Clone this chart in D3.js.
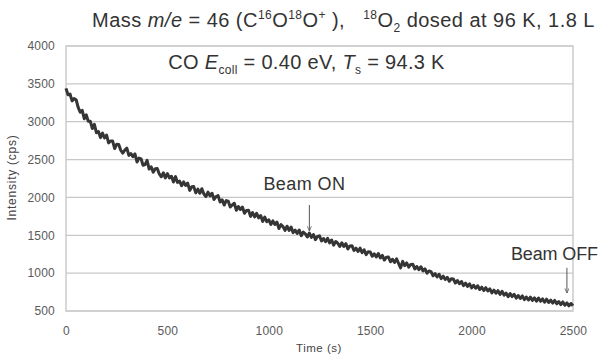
<!DOCTYPE html>
<html><head><meta charset="utf-8">
<script src="https://cdn.jsdelivr.net/npm/d3@7"></script>
<style>
html,body{margin:0;padding:0;background:#fff;}
svg{display:block;font-family:"Liberation Sans",Arial,sans-serif;}
</style></head><body>
<svg id="c" width="600" height="358"></svg>
<script>
// ---- data ----
const timeS = d3.range(0, 2501, 10); // sampling times, s (10 s step)
const intensity = [3440,3355,3365,3275,3305,3290,3190,3125,3150,3040,3090,3005,3005,2910,2965,2855,2870,2790,2850,2785,2825,2720,2745,2745,2645,2703,2700,2623,2585,2625,2650,2555,2580,2538,2575,2468,2520,2510,2425,2435,2490,2375,2405,2333,2380,2383,2310,2273,2325,2258,2315,
2258,2280,2203,2275,2198,2215,2155,2205,2158,2190,2093,2140,2143,2060,2110,2055,2115,2045,2010,2070,2020,2055,1973,2010,2023,1940,1968,1900,1958,1950,1873,1900,1923,1830,1880,1840,1873,1790,1828,1830,1750,1800,1743,1790,1730,1760,1683,1740,1680,1705,
1643,1690,1643,1675,1590,1640,1615,1565,1620,1565,1608,1535,1568,1525,1570,1495,1543,1520,1478,1530,1473,1510,1443,1485,1493,1425,1458,1415,1460,1400,1438,1370,1418,1395,1353,1400,1353,1390,1318,1360,1363,1300,1330,1285,1330,1270,1308,1245,1283,1280,
1223,1255,1213,1260,1200,1235,1173,1210,1213,1150,1183,1140,1188,1130,1070,1155,1098,1135,1078,1115,1118,1055,1088,1045,1085,1030,1058,1000,1028,1020,965,995,950,985,928,960,915,945,893,925,923,870,903,860,890,835,868,825,858,805,
840,800,833,785,815,770,808,765,793,740,775,735,768,720,760,710,738,690,730,690,720,670,705,665,700,650,685,645,683,640,673,630,672,628,659,615,656,612,643,605,640,595,625,585,620,575,607,568,599,570];
const xTicks = [0,500,1000,1500,2000,2500];
const yTicks = [500,1000,1500,2000,2500,3000,3500,4000];
const annLabels = ["Beam ON","Beam OFF"];
const annTime = [1200,2470];
const annFrom = [1900,1070];
const annTo = [1560,740];

// ---- layout ----
const svg = d3.select("#c");
const L=66, R=573, T=46, B=311;
const x = d3.scaleLinear().domain([0,2500]).range([L,R]);
const y = d3.scaleLinear().domain([500,4000]).range([B,T]);
const grid="#c8c8c8", txt="#333";

function fit(sel, target){
  const n = sel.text().length;
  const w = sel.node().getBBox().width;
  sel.attr("letter-spacing", ((target-w)/n).toFixed(2));
}

// gridlines
svg.append("g").selectAll("line").data(yTicks).join("line")
  .attr("x1",L).attr("x2",R).attr("y1",d=>y(d)).attr("y2",d=>y(d))
  .attr("stroke",grid).attr("stroke-width",1.2);
// frame
svg.append("rect").attr("x",L).attr("y",T).attr("width",R-L).attr("height",B-T)
  .attr("fill","none").attr("stroke",grid).attr("stroke-width",1.4);

// axes
const ya = svg.append("g").attr("transform",`translate(${L},0)`)
  .call(d3.axisLeft(y).tickValues(yTicks).tickSize(0).tickPadding(11).tickFormat(d3.format("d")));
const xa = svg.append("g").attr("transform",`translate(0,${B})`)
  .call(d3.axisBottom(x).tickValues(xTicks).tickSize(0).tickPadding(15).tickFormat(d3.format("d")));
[ya,xa].forEach(g=>{g.select(".domain").remove();
  g.selectAll("text").attr("font-size",12).attr("fill","#5a5a5a").attr("letter-spacing",0.2)
   .attr("font-family","'Liberation Sans',Arial,sans-serif");});

// axis titles
const yl = svg.append("text").attr("transform",`translate(16,${(T+B)/2-1}) rotate(-90)`)
  .attr("text-anchor","middle").attr("font-size",12).attr("fill","#444").text("Intensity (cps)");
fit(yl,86);
const xl = svg.append("text").attr("x",319).attr("y",352).attr("text-anchor","middle")
  .attr("font-size",11.5).attr("fill","#444").text("Time (s)");
fit(xl,46);

// data line
const pts = timeS.map((t,i)=>[t,intensity[i]]);
svg.append("path").datum(pts)
  .attr("d",d3.line().x(d=>x(d[0])).y(d=>y(d[1])))
  .attr("fill","none").attr("stroke","#353535").attr("stroke-width",3).attr("stroke-linejoin","round");

// rich text helper
function rich(sel, parts, fs){
  let shift=0;
  parts.forEach(p=>{
    const ts = sel.append("tspan").text(p.t);
    let target = p.s==="sup"? -0.38*fs : p.s==="sub"? 0.25*fs : 0;
    ts.attr("dy", target-shift); shift=target;
    if(p.s) ts.attr("font-size", fs*0.6);
    if(p.i) ts.attr("font-style","italic");
  });
}
// title
const tfs=20;
const title = svg.append("text").attr("x",343.5).attr("y",27).attr("text-anchor","middle")
  .attr("font-size",tfs).attr("fill",txt);
rich(title,[{t:"Mass "},{t:"m/e",i:true},{t:" = 46 (C"},{t:"16",s:"sup"},{t:"O"},{t:"18",s:"sup"},{t:"O"},{t:"+",s:"sup"},
  {t:" ),\u00a0\u00a0\u00a0"},{t:"18",s:"sup"},{t:"O"},{t:"2",s:"sub"},{t:" dosed at 96 K, 1.8 L"}],tfs);
fit(title,503);

// inner label
const ifs=20;
const inner = svg.append("text").attr("x",306.5).attr("y",69).attr("text-anchor","middle")
  .attr("font-size",ifs).attr("fill",txt);
rich(inner,[{t:"CO "},{t:"E",i:true},{t:"coll",s:"sub"},{t:" = 0.40 eV, "},{t:"T",i:true},{t:"s",s:"sub"},{t:" = 94.3 K"}],ifs);
fit(inner,277);

// annotations
svg.append("defs").append("marker").attr("id","ah").attr("viewBox","0 0 10 10").attr("refX",9).attr("refY",5)
  .attr("markerWidth",5).attr("markerHeight",5).attr("orient","auto")
  .append("path").attr("d","M0,1L10,5L0,9").attr("fill","none").attr("stroke","#555").attr("stroke-width",1.5);
annLabels.forEach((lab,i)=>{
  svg.append("line").attr("x1",x(annTime[i])).attr("x2",x(annTime[i]))
    .attr("y1",y(annFrom[i])).attr("y2",y(annTo[i])).attr("stroke","#555").attr("stroke-width",1)
    .attr("marker-end","url(#ah)");
});
const b1 = svg.append("text").attr("x",x(annTime[0])-5).attr("y",190).attr("text-anchor","middle")
  .attr("font-size",18).attr("fill",txt).text(annLabels[0]);
fit(b1,82);
const b2 = svg.append("text").attr("x",x(annTime[1])-12.5).attr("y",260).attr("text-anchor","middle")
  .attr("font-size",18).attr("fill",txt).text(annLabels[1]);
fit(b2,87);
</script>
</body></html>
